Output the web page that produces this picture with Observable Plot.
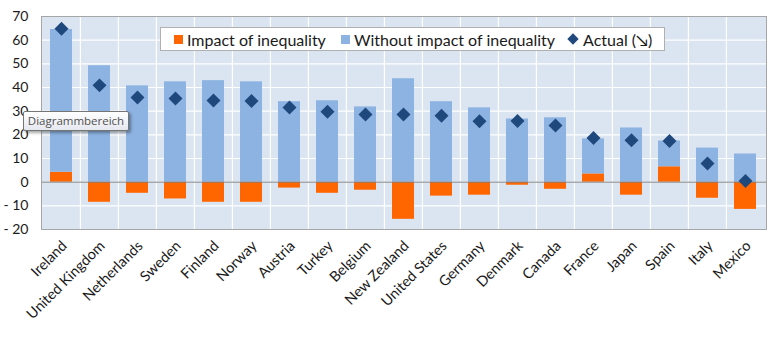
<!DOCTYPE html>
<html>
<head>
<meta charset="utf-8">
<script src="https://cdn.jsdelivr.net/npm/d3@7"></script>
<script src="https://cdn.jsdelivr.net/npm/@observablehq/plot@0.6"></script>
<style>
  html, body { margin: 0; padding: 0; background: #fff; }
  #wrap { position: relative; width: 775px; height: 342px; overflow: hidden; font-family: Lato, sans-serif; }
  #legend { position: absolute; left: 160px; top: 27px; width: 503px; height: 22px; background: #fff; border: 1px solid #b0b0b0; display: flex; align-items: center; font-size: 16px; color: #1a1a1a; white-space: nowrap; }
  #legend .sw { display: inline-block; width: 9px; height: 9px; margin-right: 4px; }
  #legend .item { display: flex; align-items: center; }
  #tip { position: absolute; left: 23px; top: 111px; width: 104px; height: 18px; border: 1px solid #767676; background: linear-gradient(#ffffff, #e6e8f0); box-shadow: 2px 2px 3px rgba(0,0,0,0.35); font-family: "Open Sans", sans-serif; font-size: 11.5px; color: #505050; line-height: 18px; text-align: center; border-radius: 2px; }
</style>
</head>
<body>
<div id="wrap"></div>
<script>
const countries = ["Ireland","United Kingdom","Netherlands","Sweden","Finland","Norway","Austria","Turkey","Belgium","New Zealand","United States","Germany","Denmark","Canada","France","Japan","Spain","Italy","Mexico"];
const impact  = [4.2,-8.5,-4.7,-7.1,-8.5,-8.5,-2.5,-4.7,-3.4,-15.7,-5.9,-5.5,-1.3,-3.0,3.5,-5.5,6.5,-6.8,-11.5];
const without = [60.3,49.2,40.7,42.4,42.9,42.4,34.0,34.4,31.8,43.7,34.0,31.4,26.7,27.2,14.8,22.9,10.9,14.4,11.9];
const actual  = [64.8,40.9,35.8,35.4,34.5,34.3,31.5,29.8,28.6,28.6,28.1,25.7,25.8,23.9,18.7,17.7,17.4,7.9,0.5];
const seriesNames = ["Impact of inequality","Without impact of inequality","Actual (\u2198)"];
const seriesColors = ["#ff6600","#8db3e2","#1f497d"];
const yTicks = [-20,-10,0,10,20,30,40,50,60,70];

const W = 775, H = 342, mL = 41, mR = 9, mT = 16, mB = 113;
const step = (W - mL - mR) / countries.length;

const rows = [
  ...countries.map((c, i) => ({country: c, series: seriesNames[0], value: impact[i]})),
  ...countries.map((c, i) => ({country: c, series: seriesNames[1], value: without[i]}))
];
const pts = countries.map((c, i) => ({country: c, value: actual[i]}));

const chart = Plot.plot({
  width: W, height: H,
  marginLeft: mL, marginRight: mR, marginTop: mT, marginBottom: mB,
  style: {fontFamily: "Lato, sans-serif", color: "#1a1a1a", background: "transparent"},
  x: {domain: countries, paddingInner: 0.42, paddingOuter: 0.21, label: null},
  y: {domain: [-20, 70], label: null},
  color: {domain: seriesNames.slice(0, 2), range: seriesColors.slice(0, 2)},
  marks: [
    Plot.frame({fill: "#dbe5f1", stroke: null}),
    Plot.ruleY(yTicks, {stroke: "#ffffff", strokeWidth: 1.2}),
    Plot.ruleX(countries.slice(1), {stroke: "#ffffff", strokeWidth: 1.2, dx: -step / 2}),
    Plot.barY(rows, Plot.stackY({x: "country", y: "value", fill: "series", order: null})),
    Plot.ruleY([0], {stroke: "#7f7f7f", strokeWidth: 1}),
    Plot.dot(pts, {x: "country", y: "value", symbol: "diamond2", r: 6.3, fill: seriesColors[2], stroke: null}),
    Plot.frame({stroke: "#a6a6a6"}),
    Plot.axisY({ticks: yTicks, tickSize: 0, tickPadding: 13, fontSize: 14, tickFormat: d => d < 0 ? "- " + (-d) : String(d)}),
    Plot.axisX({tickSize: 0, tickPadding: 14, tickRotate: -45, fontSize: 14.5, dx: 3})
  ]
});

const wrap = document.getElementById("wrap");
wrap.appendChild(chart);

const legend = document.createElement("div");
legend.id = "legend";
const items = [
  {name: seriesNames[0], color: seriesColors[0], shape: "sq", ml: 13},
  {name: seriesNames[1], color: seriesColors[1], shape: "sq", ml: 15},
  {name: seriesNames[2], color: seriesColors[2], shape: "dia", ml: 14}
];
for (const it of items) {
  const d = document.createElement("span");
  d.className = "item";
  d.style.marginLeft = it.ml + "px";
  const sw = document.createElement("span");
  sw.className = "sw";
  sw.style.background = it.color;
  if (it.shape === "dia") { sw.style.transform = "rotate(45deg)"; sw.style.width = "8px"; sw.style.height = "8px"; sw.style.marginRight = "6px"; }
  const t = document.createElement("span");
  t.textContent = it.name;
  d.appendChild(sw); d.appendChild(t);
  legend.appendChild(d);
}
wrap.appendChild(legend);

const tip = document.createElement("div");
tip.id = "tip";
tip.textContent = "Diagrammbereich";
wrap.appendChild(tip);
</script>
</body>
</html>
